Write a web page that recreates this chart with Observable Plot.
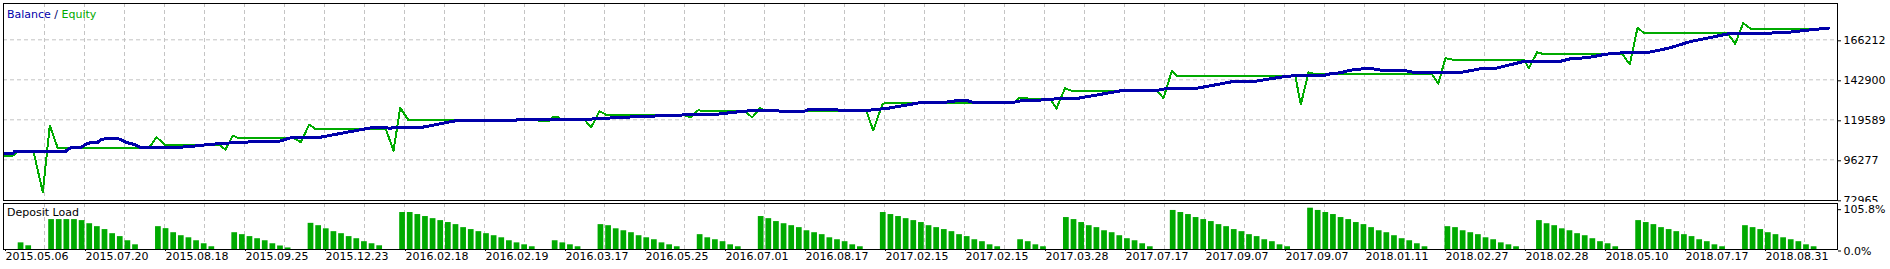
<!DOCTYPE html>
<html><head><meta charset="utf-8">
<script src="https://cdn.jsdelivr.net/npm/d3@7"></script>
<script src="https://cdn.jsdelivr.net/npm/@observablehq/plot@0.6"></script>
<style>
html,body{margin:0;padding:0;background:#fff;}
#chart{width:1890px;}
.panel{position:relative;overflow:hidden;}
.panel svg{display:block;}
</style></head><body><div id="chart"></div>
<script>
// ---------- data ----------
const dateLabels = ["2015.05.06","2015.07.20","2015.08.18","2015.09.25","2015.12.23","2016.02.18","2016.02.19","2016.03.17","2016.05.25","2016.07.01","2016.08.17","2017.02.15","2017.02.15","2017.03.28","2017.07.17","2017.09.07","2017.09.07","2018.01.11","2018.02.27","2018.02.28","2018.05.10","2018.07.17","2018.08.31"];
const balanceTicks = [72965, 96277, 119589, 142900, 166212];
const loadTicks = [0, 105.8];

// [trade index, balance]
const balance = [[-1.80,99773],[-0.75,99773],[-0.48,101114],[6.20,101114],[6.59,102687],[7.12,103620],[8.30,103620],[8.82,105194],[9.48,106359],[10.39,106359],[10.79,107933],[11.31,108516],[13.15,108516],[13.54,107933],[14.19,106359],[15.24,105194],[15.90,103620],[17.08,103270],[20.22,103270],[21.27,103620],[22.97,104202],[24.94,105194],[27.17,105951],[29.79,106534],[31.36,107117],[34.25,107117],[35.0,108100],[35.5,108865],[36.2,109448],[39.62,109448],[46.44,115100],[47.75,115100],[48.79,114692],[49.45,115275],[52.99,115275],[57.31,119005],[62.95,119005],[65.18,119354],[65.57,119763],[74.22,119763],[76.32,120346],[79.59,121103],[82.87,121686],[85.23,122094],[88.77,122677],[91.26,122677],[93.88,124018],[96.24,125008],[99.13,125008],[99.91,124601],[103.06,124601],[103.5,125416],[107.25,125416],[107.77,125008],[111.18,125008],[114.06,126349],[118.13,129496],[120.88,129496],[123.24,130836],[124.29,130836],[125.20,129671],[130.31,129671],[131.63,130836],[133.46,130836],[134.64,131419],[135.55,131594],[136.60,132176],[138.96,132176],[144.73,136664],[149.19,136664],[150.50,137830],[154.30,137830],[158.76,141500],[159.28,142083],[162.17,142083],[165.44,144414],[167.41,145404],[171.07,145404],[172.0,146396],[173.3,146978],[174.62,148527],[176.19,149311],[177.50,149311],[178.81,148318],[181.69,148318],[183.13,146978],[186.41,146978],[189.29,147370],[191.65,149311],[193.36,149311],[197.16,153392],[201.88,153392],[203.71,155488],[204.76,155488],[206.33,156276],[208.03,157820],[210.26,158636],[213.67,158900],[216.30,161318],[219.18,165221],[221.78,167552],[224.14,169708],[231.23,170291],[232.67,170874],[234.90,172039],[237.26,172972]];

// [trade index, equity]
const equity = [[-1.80,98780],[-0.62,98780],[-0.13,101110],[2.01,101110],[3.22,77390],[4.14,116270],[5.19,103040],[17.12,103040],[18.13,109450],[19.17,105190],[26.25,105190],[27.17,102280],[28.13,110440],[28.91,108870],[36.17,108870],[37.04,106530],[38.14,116850],[39.00,114110],[48.18,114110],[49.19,101700],[50.07,126580],[51.11,119590],[67.9,119590],[68.32,119000],[69.63,119000],[70.03,120930],[70.81,120930],[71.07,119590],[74.22,119590],[75.10,115280],[76.19,124600],[77.06,122500],[87.06,122500],[88.20,121100],[89.07,125010],[95.19,124830],[96.20,120930],[97.20,126350],[97.81,125010],[99.0,124600],[111.18,124600],[112.06,113350],[113.28,128910],[113.6,129260],[130.45,129260],[131.10,132180],[132.15,132180],[132.67,131420],[135.29,131420],[136.08,126170],[137.19,137950],[137.92,136660],[149.23,136660],[150.10,132180],[151.19,147910],[151.85,145230],[167.37,145230],[168.10,128510],[169.11,147150],[169.76,146400],[171.07,145990],[185.32,145990],[186.11,140570],[187.06,155490],[187.94,154730],[197.33,154730],[197.98,149660],[199.08,158990],[199.95,157820],[210.26,157820],[211.22,151820],[212.23,173210],[213.11,170060],[224.02,170060],[225.03,163880],[226.08,175880],[227.08,172620],[237.26,172620]];

// deposit load (%) per trade slot
const depositLoad = [17,9.5,0,0,76.6,76.6,76.6,76.6,74,66,
58.5,51,40.5,33,22.4,12,0,0,58.5,53.4,
43,35.3,30,22.4,14.7,7,0,0,43,38,
33,27.6,22.4,14.7,9,4,0,0,67,61,
53,45.7,40.5,33,27.6,20,14.7,9.5,0,0,
94.7,94.7,89.5,84.4,79,74,69,63.7,56,51,
45.7,40.5,35.3,30,22.4,17,12,7,0,0,
22.4,17,12,7,0,0,63.7,61,53,48,
43,35.3,30,25,17,12,7,0,0,38,
30,25,20,12,7,0,0,84.4,79,71.5,
66,61,56,48,43,38,30,25,20,12,
7,0,0,94.7,89.5,84.4,79,74,69,61,
56,51,45.7,38,33,25,20,12,7,0,
0,25,20,12,7,0,0,81.8,76.6,69,
61,56,48,43,35.3,27.6,22.4,14.7,7,0,
0,100,94.7,89.5,81.8,76.6,71.5,63.7,58.5,51,
45.7,38,33,25,20,12,7,0,0,105.8,
100,94.7,89.5,81.8,76.6,69,63.7,56,48,43,
35.3,27.6,22.4,14.7,7,0,0,58.5,56,48,
43,38,30,25,17,12,7,0,0,74,
66,61,53,48,40.5,35.3,27.6,20,14.7,7,
0,0,74,69,63.7,56,51,45.7,38,33,
25,20,12,7,0,0,61,56,51,43,
38,30,25,20,12,7];

// ---------- layout ----------
const W = 1890, mainH = 202, subH = 67;
const mL = 3, mR = 53;
const pxPerTrade = 7.63;
const tradeAtLeft = -1.927;
const xDomain = [tradeAtLeft, tradeAtLeft + (W - mL - mR) / pxPerTrade];
const firstTick = tradeAtLeft + 1 / pxPerTrade;
const gridStep = 40 / pxPerTrade, labelStep = 80 / pxPerTrade;
const gridX = d3.range(1, 46).map(j => firstTick + j * gridStep);
const labelX = dateLabels.map((d, i) => firstTick + i * labelStep);
const labelMap = new Map(labelX.map((x, i) => [x, dateLabels[i]]));
const loadData = depositLoad.map((v, k) => ({k, v})).filter(d => d.v > 0);

const GREEN = "#00aa00", BLUE = "#0000aa", GRID = "#c4c4c4";
const style = {fontFamily: "'DejaVu Sans', sans-serif", fontSize: "11px", color: "#000", background: "#fff"};

const main = Plot.plot({
  width: W, height: mainH,
  marginLeft: mL, marginRight: mR, marginTop: 3, marginBottom: 2,
  x: {domain: xDomain, axis: null},
  y: {domain: [72557, 187367]},
  style,
  marks: [
    Plot.ruleX(gridX, {stroke: GRID, strokeDasharray: "4,3"}),
    Plot.ruleY(balanceTicks.slice(1), {stroke: GRID, strokeDasharray: "4,3"}),
    Plot.line(equity, {x: d => d[0], y: d => d[1], stroke: GREEN, strokeWidth: 2, shapeRendering: "crispEdges"}),
    Plot.line(balance, {x: d => d[0], y: d => d[1], stroke: BLUE, strokeWidth: 3, shapeRendering: "crispEdges"}),
    Plot.frame({stroke: "#000"}),
    Plot.axisY(balanceTicks, {anchor: "right", tickSize: 3, tickPadding: 3, tickFormat: d => String(d), dy: 1, label: null, fill: "#000"})
  ]
});

const sub = Plot.plot({
  width: W, height: subH,
  marginLeft: mL, marginRight: mR, marginTop: 1, marginBottom: 20,
  x: {domain: xDomain},
  y: {domain: [0, 117.8]},
  style,
  marks: [
    Plot.ruleX(gridX, {stroke: GRID, strokeDasharray: "4,3"}),
    Plot.rectY(loadData, {x1: d => d.k, x2: d => d.k + 0.75, y: "v", fill: GREEN, inset: 0}),
    Plot.frame({stroke: "#000"}),
    Plot.axisY(loadTicks, {anchor: "right", tickSize: 3, tickPadding: 3, tickFormat: d => d.toFixed(1) + "%", dy: 1.5, label: null, fill: "#000"}),
    Plot.axisX(labelX, {anchor: "bottom", tickSize: 2, tickPadding: 1, tickFormat: d => labelMap.get(d), textAnchor: "start", dx: 1, label: null, fill: "#000"})
  ]
});

const chart = document.getElementById("chart");
const p1 = document.createElement("div"); p1.className = "panel"; p1.style.height = mainH + "px"; p1.appendChild(main);
const p2 = document.createElement("div"); p2.className = "panel"; p2.style.height = subH + "px"; p2.appendChild(sub);
chart.appendChild(p1); chart.appendChild(p2);

// in-panel titles
const t1 = d3.select(main).append("text").attr("x", 7).attr("y", 18)
  .attr("text-anchor", "start")
  .attr("font-family", "'DejaVu Sans', sans-serif").attr("font-size", 11);
t1.append("tspan").attr("fill", BLUE).text("Balance");
t1.append("tspan").attr("fill", "#000066").text(" / ");
t1.append("tspan").attr("fill", GREEN).text("Equity");
d3.select(sub).append("text").attr("x", 7).attr("y", 14)
  .attr("text-anchor", "start")
  .attr("font-family", "'DejaVu Sans', sans-serif").attr("font-size", 11).attr("fill", "#000")
  .text("Deposit Load");
</script></body></html>
